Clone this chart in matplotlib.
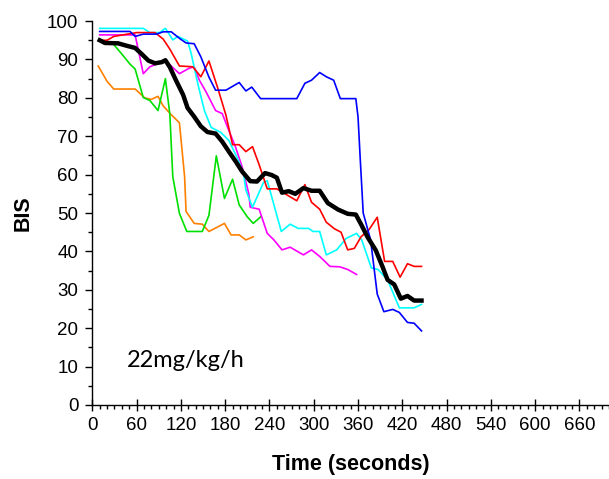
import matplotlib
matplotlib.use('Agg')
import matplotlib.pyplot as plt
from matplotlib.ticker import MultipleLocator

# BIS traces (time in s, BIS value)
t_blue = [10, 51, 58, 69, 87, 96, 107, 118, 127, 138, 147, 158, 167, 181, 199, 208, 216, 228, 252, 277,
          288, 297, 308, 317, 327, 336, 357, 360, 363, 367, 377, 386, 395, 407, 416, 427, 436, 446]
bis_blue = [97.3, 97.3, 96, 96.6, 96.6, 97.2, 97.2, 95.5, 94.3, 94.1, 90.7, 85.4, 82, 82, 84, 81.8, 82.8, 79.8, 79.8, 79.8,
            83.8, 84.6, 86.6, 85.5, 84.6, 79.8, 79.8, 75, 64, 50, 43, 28.9, 24.3, 24.9, 24.1, 21.5, 21.3, 19.3]

t_red = [10, 20, 29, 60, 85, 96, 105, 118, 136, 147, 158, 170, 181, 190, 199, 208, 217, 226, 237, 250,
         277, 288, 297, 308, 317, 328, 337, 346, 355, 364, 375, 386, 396, 407, 417, 427, 436, 446]
bis_red = [95, 95, 96, 97, 97, 95.3, 92.7, 88.3, 88.1, 85.5, 89.6, 82.5, 75.5, 67.8, 67.8, 66, 67.3, 62.6, 56.3, 56.3,
           53.2, 57.4, 52.8, 51, 47.6, 45.9, 45, 40.4, 40.8, 43.8, 45.7, 48.9, 37.4, 37.4, 33.3, 36.8, 36.1, 36.1]

t_cyan = [10, 69, 78, 91, 99, 109, 116, 129, 134, 143, 152, 161, 174, 185, 196, 205, 208, 217, 232, 237,
          256, 268, 279, 293, 299, 308, 317, 331, 344, 358, 365, 378, 387, 400, 416, 436, 446]
bis_cyan = [98.1, 98.1, 97, 97, 98.1, 95.1, 96, 94.8, 91.5, 83.6, 76.6, 72.3, 71, 68.9, 64.5, 60.2, 56, 51.5, 58, 58.4,
            45.2, 47.1, 46, 46, 45.2, 45.2, 39.1, 40.4, 43.4, 44.7, 43, 35.7, 35.3, 32.6, 25.3, 25.3, 26.2]

t_magenta = [10, 58, 69, 78, 99, 118, 131, 138, 145, 154, 167, 176, 185, 194, 203, 212, 214, 226, 237, 246,
             257, 268, 286, 297, 308, 322, 335, 346, 358]
bis_magenta = [96.4, 96.4, 86.3, 88.1, 89.7, 86.3, 87.7, 88.1, 84.6, 81.6, 76.7, 75.9, 71.5, 67.2, 62, 55, 51.5, 51, 44.7, 43,
               40.4, 41.1, 39.1, 40.4, 38.7, 36.1, 36, 35.3, 34]

t_green = [10, 29, 40, 51, 58, 69, 78, 89, 99, 105, 109, 118, 128, 149, 158, 168, 179, 190, 199, 210, 218, 228]
bis_green = [95, 93.9, 91.4, 88.8, 87.5, 80.1, 79.3, 76.7, 85, 75.8, 59.5, 49.9, 45.2, 45.2, 49.4, 64.9, 53.8, 58.8,
             52.1, 49, 47.3, 49]

t_orange = [8, 20, 29, 58, 71, 80, 89, 96, 105, 118, 125, 127, 138, 149, 158, 168, 179, 188, 199, 208, 218]
bis_orange = [88.3, 84.3, 82.3, 82.3, 80, 79.6, 80.4, 77.9, 76, 73.5, 59.5, 50.4, 47.3, 47.1, 45.2, 46.2, 47.3, 44.3,
              44.3, 43, 43.8]

# mean curve (thick black)
t_mean = [10, 17, 35, 46, 58, 67, 76, 85, 94, 99, 105, 114, 123, 129, 138, 147, 156, 167, 176, 185, 194, 203, 214,
          223, 234, 243, 250, 257, 266, 275, 286, 297, 308, 319, 333, 346, 357, 364, 373, 384, 393, 400, 409, 418,
          427, 436, 446]
bis_mean = [95, 94.3, 94.2, 93.6, 93, 91.4, 89.7, 89, 89.3, 89.8, 88, 84.3, 80.8, 77.4, 75.1, 72.6, 71.1, 70.7, 68.6,
            66, 63.5, 60.8, 58.3, 58.2, 60.4, 59.9, 59.2, 55.3, 55.7, 55, 56.5, 55.8, 55.8, 52.6, 50.9, 49.8, 49.6,
            47.1, 43.7, 40.3, 36.1, 32.6, 31.4, 27.7, 28.4, 27.2, 27.2]

x_ticks = list(range(0, 661, 60))
y_ticks = list(range(0, 101, 10))
dose_label = '22mg/kg/h'

f = plt.figure(figsize=(6.09, 4.79), dpi=100)
ax = f.add_axes([0.1516, 0.1545, 0.8484, 0.8015])

lw = 1.2
ax.plot(t_orange, bis_orange, color='#FF8000', lw=lw)
ax.plot(t_green, bis_green, color='#00E000', lw=lw)
ax.plot(t_magenta, bis_magenta, color='#FF00FF', lw=lw)
ax.plot(t_cyan, bis_cyan, color='#00FFFF', lw=lw)
ax.plot(t_red, bis_red, color='#FF0000', lw=lw)
ax.plot(t_blue, bis_blue, color='#0000FF', lw=lw)
ax.plot(t_mean, bis_mean, color='k', lw=3.2)

ax.set_xlim(0, 700)
ax.set_ylim(0, 100)
for s in ['top', 'right']:
    ax.spines[s].set_visible(False)
ax.spines['left'].set_linewidth(1.0)
ax.spines['bottom'].set_linewidth(1.0)

ax.set_xticks(x_ticks)
ax.set_yticks(y_ticks)
ax.xaxis.set_minor_locator(MultipleLocator(10))
ax.yaxis.set_minor_locator(MultipleLocator(5))
ax.tick_params(axis='x', which='major', direction='inout', length=8, width=1, pad=5,
               labelsize=13.5)
ax.tick_params(axis='x', which='minor', direction='out', length=3, width=1)
ax.tick_params(axis='y', which='major', direction='out', length=5, width=1, pad=5, labelsize=13.5)
ax.tick_params(axis='y', which='minor', direction='out', length=3, width=1)
for lab in ax.get_xticklabels() + ax.get_yticklabels():
    lab.set_fontfamily('Liberation Sans')

ax.set_xlabel('Time (seconds)', fontsize=15.5, fontweight='bold', family='Liberation Sans', labelpad=14)
ax.set_ylabel('BIS', fontsize=15.5, fontweight='bold', family='Liberation Sans', labelpad=10)

ax.text(47, 10, dose_label, fontsize=17, family='Lato', va='baseline', ha='left')

f.savefig('out.png', dpi=100)
